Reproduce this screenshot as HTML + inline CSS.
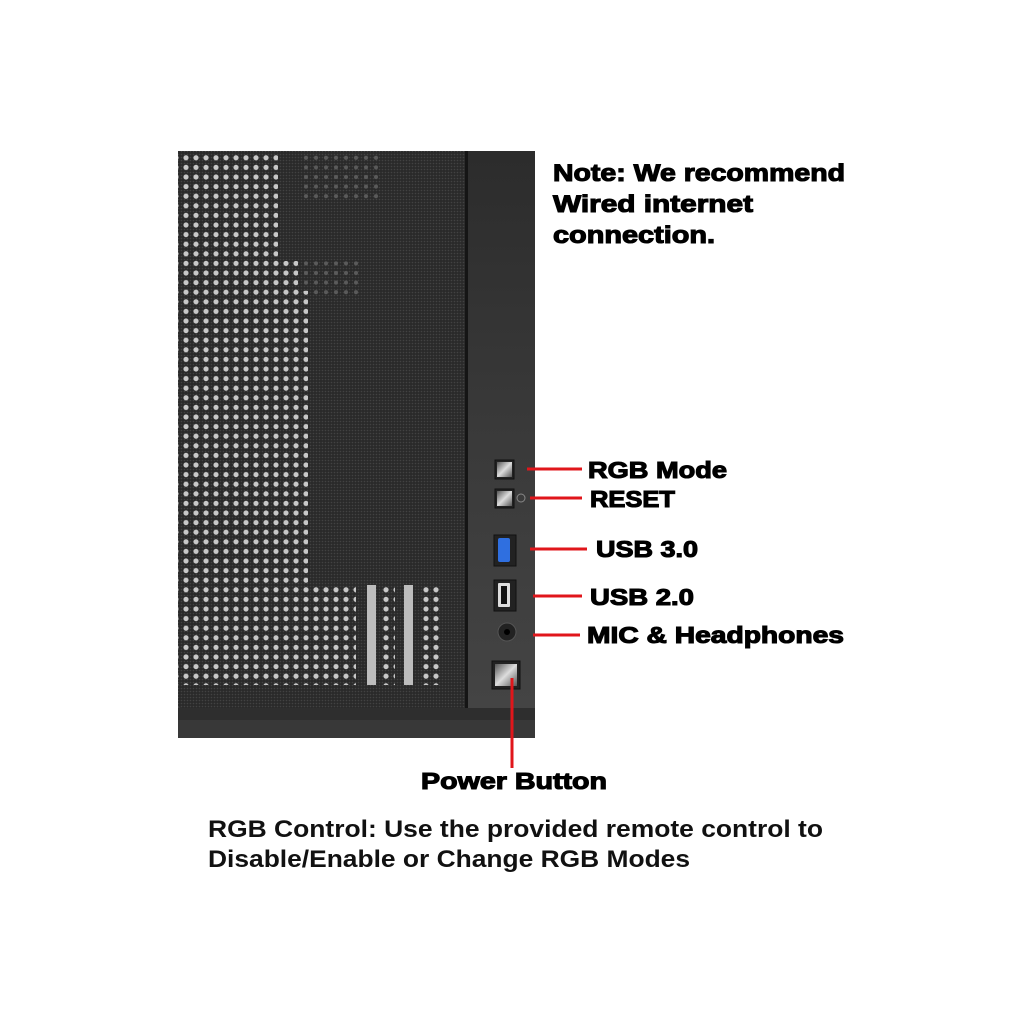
<!DOCTYPE html>
<html><head><meta charset="utf-8"><style>
html,body{margin:0;padding:0;background:#fff;}
svg{display:block}
</style></head><body>
<svg width="1024" height="1024" viewBox="0 0 1024 1024" xmlns="http://www.w3.org/2000/svg">
<defs>
<pattern id="dots" x="181" y="153" width="10" height="9.6" patternUnits="userSpaceOnUse">
<circle cx="5" cy="4.8" r="2.6" fill="#c8c8c8"/>
</pattern>
<pattern id="fdots" x="181" y="153" width="10" height="9.6" patternUnits="userSpaceOnUse">
<circle cx="5" cy="4.8" r="2" fill="#5a5a5a"/>
</pattern>
<pattern id="mesh" width="3" height="3" patternUnits="userSpaceOnUse">
<rect width="3" height="3" fill="#2a2a2a"/><circle cx="1.5" cy="1.5" r="0.8" fill="#424242"/>
</pattern>
<linearGradient id="fr" x1="0" y1="0" x2="0" y2="1">
<stop offset="0" stop-color="#2c2c2c"/><stop offset="0.5" stop-color="#3a3a3a"/><stop offset="1" stop-color="#454545"/>
</linearGradient>
<linearGradient id="btn" x1="0" y1="0" x2="1" y2="1">
<stop offset="0" stop-color="#555"/><stop offset="0.5" stop-color="#ddd"/><stop offset="1" stop-color="#555"/>
</linearGradient>
</defs>
<rect x="178" y="151" width="357" height="587" fill="url(#fr)"/>
<rect x="178" y="708" width="357" height="30" fill="#2e2e2e"/>
<rect x="178" y="720" width="357" height="18" fill="#383838"/>
<rect x="178" y="151" width="289" height="557" rx="3" fill="url(#mesh)"/>
<rect x="465" y="151" width="3" height="557" fill="#151515"/>
<g fill="url(#fdots)">
<rect x="300" y="151" width="80" height="50"/>
<rect x="300" y="260" width="60" height="40"/>
</g>
<g fill="url(#dots)">
<rect x="178" y="151" width="100" height="110"/>
<rect x="178" y="261" width="120" height="30"/>
<rect x="178" y="291" width="130" height="294"/>
<rect x="178" y="585" width="178" height="100"/>
<rect x="420" y="585" width="22" height="100"/>
<rect x="383" y="585" width="12" height="100"/>
</g>
<rect x="367" y="585" width="9" height="100" fill="#bdbdbd"/>
<rect x="404" y="585" width="9" height="100" fill="#bdbdbd"/>
<rect x="495" y="460" width="19" height="19" fill="#222" stroke="#111"/>
<rect x="497" y="462" width="15" height="15" fill="url(#btn)"/>
<rect x="495" y="489" width="19" height="19" fill="#222" stroke="#111"/>
<rect x="497" y="491" width="15" height="15" fill="url(#btn)"/>
<circle cx="521" cy="498" r="4" fill="none" stroke="#888" stroke-width="1"/>
<rect x="494" y="535" width="22" height="31" fill="#222" stroke="#111"/>
<rect x="498" y="538" width="12" height="24" rx="2" fill="#2f6fe0"/>
<rect x="494" y="580" width="22" height="31" fill="#222" stroke="#111"/>
<rect x="498" y="583" width="12" height="24" rx="1" fill="#ddd"/>
<rect x="501" y="586" width="6" height="18" fill="#111"/>
<circle cx="507" cy="632" r="9" fill="#222" stroke="#555"/>
<circle cx="507" cy="632" r="3" fill="#000"/>
<rect x="492" y="661" width="28" height="28" fill="#222" stroke="#111"/>
<rect x="495" y="664" width="22" height="22" fill="url(#btn)"/>
<g stroke="#e0161b" stroke-width="3">
<line x1="527" y1="469" x2="582" y2="469"/>
<line x1="530" y1="498" x2="582" y2="498"/>
<line x1="530" y1="549" x2="587" y2="549"/>
<line x1="533" y1="596" x2="582" y2="596"/>
<line x1="533" y1="635" x2="580" y2="635"/>
<line x1="512" y1="678" x2="512" y2="768"/>
</g>
<g font-family="Liberation Sans, sans-serif" font-weight="bold" fill="#000" stroke="#000" stroke-width="1.1" font-size="24">
<text x="553" y="181" textLength="292" lengthAdjust="spacingAndGlyphs">Note: We recommend</text>
<text x="553" y="212" textLength="200" lengthAdjust="spacingAndGlyphs">Wired internet</text>
<text x="553" y="243" textLength="162" lengthAdjust="spacingAndGlyphs">connection.</text>
<text x="588" y="478" font-size="23" textLength="139" lengthAdjust="spacingAndGlyphs">RGB Mode</text>
<text x="590" y="507" font-size="23" textLength="85" lengthAdjust="spacingAndGlyphs">RESET</text>
<text x="596" y="557" font-size="23" textLength="102" lengthAdjust="spacingAndGlyphs">USB 3.0</text>
<text x="590" y="605" font-size="23" textLength="104" lengthAdjust="spacingAndGlyphs">USB 2.0</text>
<text x="587" y="643" font-size="23" textLength="257" lengthAdjust="spacingAndGlyphs">MIC &amp; Headphones</text>
<text x="421" y="789" font-size="23" textLength="186" lengthAdjust="spacingAndGlyphs">Power Button</text>
</g>
<g font-family="Liberation Sans, sans-serif" font-weight="bold" fill="#111" font-size="24">
<text x="208" y="837" textLength="615" lengthAdjust="spacingAndGlyphs">RGB Control: Use the provided remote control to</text>
<text x="208" y="867" textLength="482" lengthAdjust="spacingAndGlyphs">Disable/Enable or Change RGB Modes</text>
</g>
</svg>
</body></html>
